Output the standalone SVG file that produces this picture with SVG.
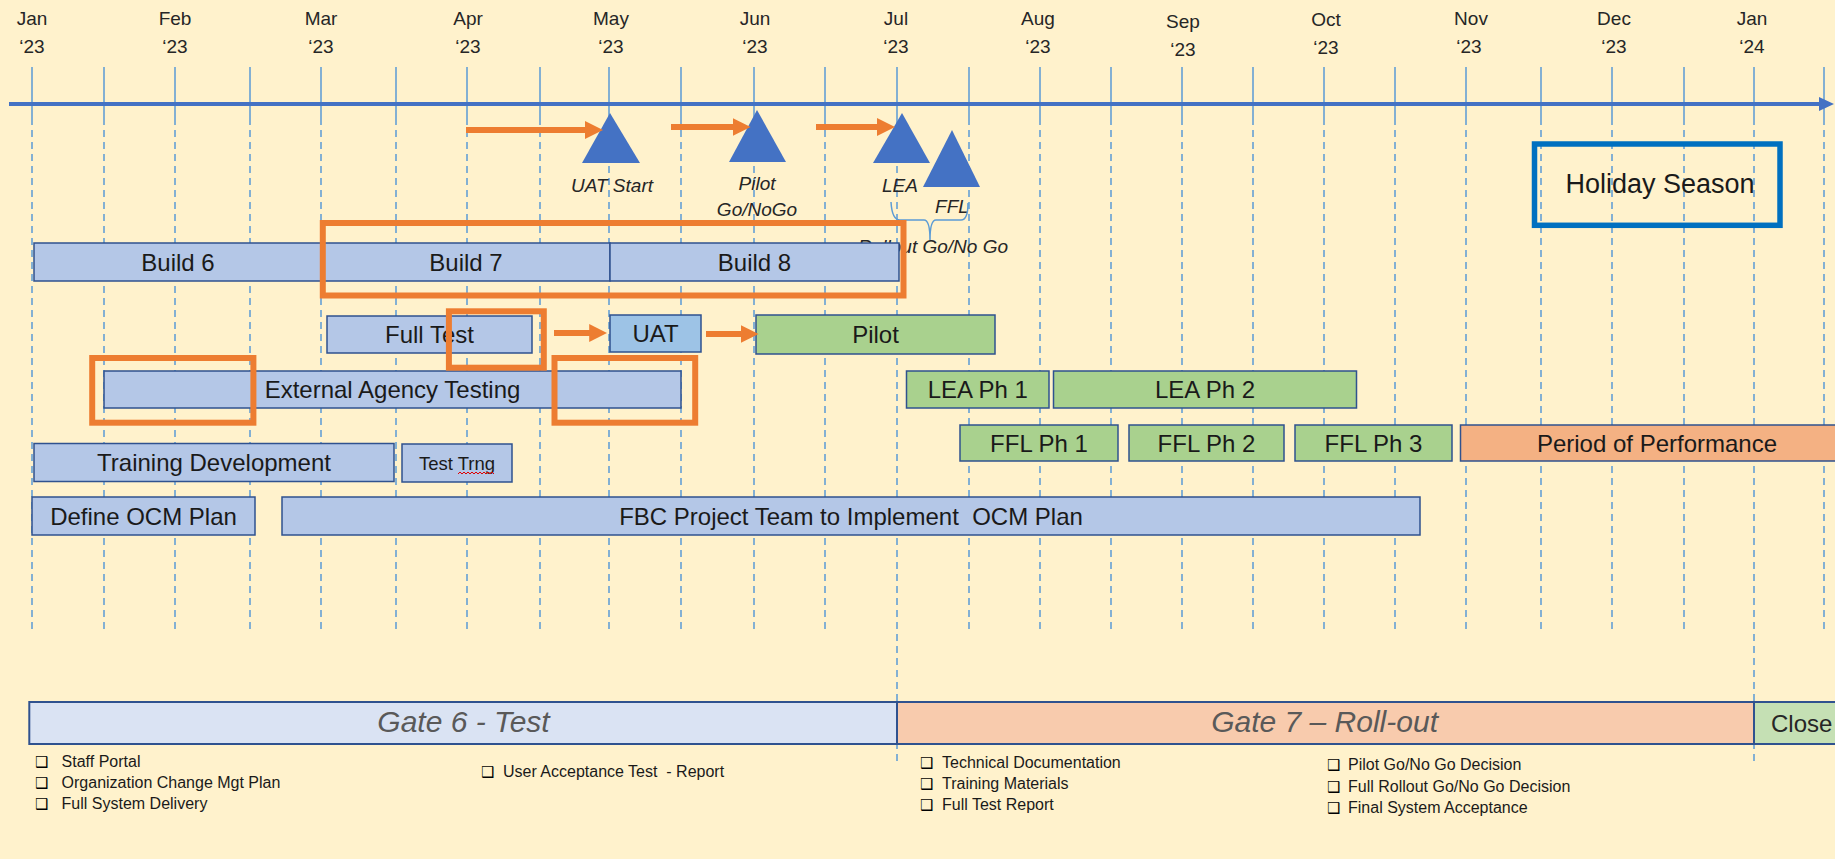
<svg xmlns="http://www.w3.org/2000/svg" width="1835" height="859" viewBox="0 0 1835 859">
<defs>
<marker id="oarrow" markerWidth="3" markerHeight="3" refX="0.4" refY="1.5" orient="auto" markerUnits="strokeWidth">
<path d="M0,0 L3,1.5 L0,3 z" fill="#ED7D31"/>
</marker>
<style>
.bg{fill:#FFF2CC}
.gs{stroke:#5B9BD5;stroke-width:1.5;fill:none}
.gd{stroke:#5B9BD5;stroke-width:1.5;stroke-dasharray:7 5;fill:none}
.box{stroke:#2F528F;stroke-width:1.5}
.blue{fill:#B4C7E7}
.uat{fill:#9DC3E6}
.green{fill:#A9D18E}
.peach{fill:#F4B183}
.lbl{font-family:"Liberation Sans",Arial,sans-serif;font-size:24px;fill:#1a1a1a;text-anchor:middle}
.mon{font-family:"Liberation Sans",Arial,sans-serif;font-size:19px;fill:#262626;text-anchor:middle}
.ms{font-family:"Liberation Sans",Arial,sans-serif;font-size:19px;font-style:italic;fill:#262626;text-anchor:middle}
.orect{fill:none;stroke:#ED7D31;stroke-width:6}
.oline{stroke:#ED7D31;stroke-width:6;fill:none}
.tri{fill:#4472C4}
.gate{stroke:#2F528F;stroke-width:2}
.gtxt{font-family:"Liberation Sans",Arial,sans-serif;font-size:30px;font-style:italic;fill:#595959;text-anchor:middle}
.del{font-family:"Liberation Sans",Arial,sans-serif;font-size:16px;fill:#1a1a1a}
.chk{font-family:"DejaVu Sans",sans-serif;font-size:15px;font-weight:bold;fill:#000000}
</style>
</defs>
<rect class="bg" x="0" y="0" width="1835" height="859"/>

<g id="grid">
<path class="gs" d="M32,67V118 M104,67V118 M175,67V118 M250,67V118 M321,67V118 M396,67V118 M467,67V118 M540,67V118 M609,67V118 M681,67V118 M754,67V118 M825,67V118 M897,67V118 M969,67V118 M1040,67V118 M1111,67V118 M1182,67V118 M1253,67V118 M1324,67V118 M1395,67V118 M1466,67V118 M1541,67V118 M1612,67V118 M1684,67V118 M1754,67V118 M1824,67V118"/>
<path class="gd" d="M32,118V630 M104,118V630 M175,118V630 M250,118V630 M321,118V630 M396,118V630 M467,118V630 M540,118V630 M609,118V630 M681,118V630 M754,118V630 M825,118V630 M897,118V765 M969,118V630 M1040,118V630 M1111,118V630 M1182,118V630 M1253,118V630 M1324,118V630 M1395,118V630 M1466,118V630 M1541,118V630 M1612,118V630 M1684,118V630 M1754,118V765 M1824,118V630"/>
</g>

<g id="axis">
<line x1="9" y1="104" x2="1822" y2="104" stroke="#4472C4" stroke-width="4"/>
<polygon points="1819,97 1834,104 1819,111" fill="#4472C4"/>
</g>

<g id="months">
<text class="mon" x="32" y="25">Jan</text><text class="mon" x="32" y="53">‘23</text>
<text class="mon" x="175" y="25">Feb</text><text class="mon" x="175" y="53">‘23</text>
<text class="mon" x="321" y="25">Mar</text><text class="mon" x="321" y="53">‘23</text>
<text class="mon" x="468" y="25">Apr</text><text class="mon" x="468" y="53">‘23</text>
<text class="mon" x="611" y="25">May</text><text class="mon" x="611" y="53">‘23</text>
<text class="mon" x="755" y="25">Jun</text><text class="mon" x="755" y="53">‘23</text>
<text class="mon" x="896" y="25">Jul</text><text class="mon" x="896" y="53">‘23</text>
<text class="mon" x="1038" y="25">Aug</text><text class="mon" x="1038" y="53">‘23</text>
<text class="mon" x="1183" y="28">Sep</text><text class="mon" x="1183" y="56">‘23</text>
<text class="mon" x="1326" y="26">Oct</text><text class="mon" x="1326" y="54">‘23</text>
<text class="mon" x="1471" y="25">Nov</text><text class="mon" x="1469" y="53">‘23</text>
<text class="mon" x="1614" y="25">Dec</text><text class="mon" x="1614" y="53">‘23</text>
<text class="mon" x="1752" y="25">Jan</text><text class="mon" x="1752" y="53">‘24</text>
</g>

<g id="ms-uat">
<polygon class="tri" points="610,113 582,163 640,163"/>
<text class="ms" x="612" y="192">UAT Start</text>
</g>
<g id="ms-pilot">
<polygon class="tri" points="757,110 729,162 786,162"/>
<text class="ms" x="757" y="190">Pilot</text>
<text class="ms" x="757" y="216">Go/NoGo</text>
</g>
<g id="ms-lea">
<polygon class="tri" points="902,113 873,163 930,163"/>
<text class="ms" x="900" y="192" font-size="18">LEA</text>
</g>
<g id="ms-ffl">
<polygon class="tri" points="952,130 923,187 980,187"/>
<text class="ms" x="952" y="213" font-size="18">FFL</text>
</g>
<g id="rollout">
<path d="M891,202 Q892,220 900,220 L924,220 Q930,220 930,240 Q930,220 936,220 L961,220 Q968,220 968,203" fill="none" stroke="#5B9BD5" stroke-width="1.5"/>
<text class="ms" x="1008" y="253" style="text-anchor:end">Rollout Go/No Go</text>
</g>

<g id="build6"><rect class="box blue" x="34" y="243" width="288" height="38"/><text class="lbl" x="178" y="270.5">Build 6</text></g>
<g id="build7"><rect class="box blue" x="322" y="243" width="288" height="38"/><text class="lbl" x="466" y="270.5">Build 7</text></g>
<g id="build8"><rect class="box blue" x="610" y="243" width="289" height="38"/><text class="lbl" x="754.5" y="270.5">Build 8</text></g>
<g id="fulltest"><rect class="box blue" x="327" y="316" width="205" height="37"/><text class="lbl" x="429.5" y="343">Full Test</text></g>
<g id="uat"><rect class="box uat" x="610" y="315" width="91" height="37"/><text class="lbl" x="655.5" y="342">UAT</text></g>
<g id="pilot"><rect class="box green" x="756" y="315" width="239" height="39"/><text class="lbl" x="875.5" y="343">Pilot</text></g>
<g id="extagency"><rect class="box blue" x="104" y="371" width="577" height="37"/><text class="lbl" x="392.5" y="398">External Agency Testing</text></g>
<g id="leaph1"><rect class="box green" x="906.5" y="371" width="142.5" height="37"/><text class="lbl" x="977.8" y="398">LEA Ph 1</text></g>
<g id="leaph2"><rect class="box green" x="1053.5" y="371" width="303" height="37"/><text class="lbl" x="1205" y="398">LEA Ph 2</text></g>
<g id="trainingdev"><rect class="box blue" x="34" y="443.5" width="360" height="38"/><text class="lbl" x="214" y="471">Training Development</text></g>
<g id="testtrng"><rect class="box blue" x="402" y="444" width="110" height="38"/><text class="lbl" x="457" y="469.5" style="font-size:18.5px">Test Trng</text>
<path d="M458,474 l2,-2 l2,2 l2,-2 l2,2 l2,-2 l2,2 l2,-2 l2,2 l2,-2 l2,2 l2,-2 l2,2 l2,-2 l2,2 l2,-2 l2,2 l2,-2 l2,2" fill="none" stroke="#E00000" stroke-width="1"/></g>
<g id="fflph1"><rect class="box green" x="960" y="425" width="158" height="36"/><text class="lbl" x="1039" y="451.5">FFL Ph 1</text></g>
<g id="fflph2"><rect class="box green" x="1129" y="425" width="155" height="36"/><text class="lbl" x="1206.5" y="451.5">FFL Ph 2</text></g>
<g id="fflph3"><rect class="box green" x="1295" y="425" width="157" height="36"/><text class="lbl" x="1373.5" y="451.5">FFL Ph 3</text></g>
<g id="pop"><rect class="box peach" x="1460.5" y="425" width="400" height="36"/><text class="lbl" x="1657" y="451.5">Period of Performance</text></g>
<g id="defineocm"><rect class="box blue" x="32" y="497" width="223" height="38"/><text class="lbl" x="143.5" y="524.5">Define OCM Plan</text></g>
<g id="fbc"><rect class="box blue" x="282" y="497" width="1138" height="38"/><text class="lbl" x="851" y="524.5" style="white-space:pre">FBC Project Team to Implement  OCM Plan</text></g>

<g id="highlights">
<rect class="orect" x="322.8" y="223" width="580.7" height="72.5"/>
<rect class="orect" x="448.9" y="311.3" width="94.9" height="56.4"/>
<rect class="orect" x="92.2" y="358" width="161.2" height="64.7"/>
<rect class="orect" x="554.5" y="358" width="140.7" height="64.7"/>
</g>

<g id="holiday">
<rect x="1534.5" y="144" width="245.5" height="81.3" fill="none" stroke="#0070C0" stroke-width="5.5"/>
<text class="lbl" x="1660" y="193" style="font-size:27px">Holiday Season</text>
</g>

<g id="connectors">
<line class="oline" x1="466" y1="130" x2="587.4" y2="130" marker-end="url(#oarrow)"/>
<line class="oline" x1="671" y1="127" x2="735" y2="127" marker-end="url(#oarrow)"/>
<line class="oline" x1="816" y1="127" x2="879.4" y2="127" marker-end="url(#oarrow)"/>
<line class="oline" x1="554" y1="333" x2="591.6" y2="333" marker-end="url(#oarrow)"/>
<line class="oline" x1="706" y1="334" x2="743" y2="334" marker-end="url(#oarrow)"/>
</g>

<g id="gate6">
<rect class="gate" x="29.3" y="702" width="867.7" height="42" fill="#DAE3F3"/>
<text class="gtxt" x="463.5" y="732">Gate 6 - Test</text>
</g>
<g id="gate7">
<rect class="gate" x="897" y="702" width="857" height="42" fill="#F8CBAD"/>
<text class="gtxt" x="1324.6" y="731.5">Gate 7 – Roll-out</text>
</g>
<g id="close">
<rect class="gate" x="1754" y="702" width="100" height="42" fill="#C5E0B4"/>
<text x="1771" y="731.5" font-family="Liberation Sans, Arial, sans-serif" font-size="24" fill="#262626">Close</text>
</g>

<g id="deliverables-g6">
<text class="chk" x="35" y="767">❑</text><text class="del" x="61.6" y="767">Staff Portal</text>
<text class="chk" x="35" y="788">❑</text><text class="del" x="61.6" y="788">Organization Change Mgt Plan</text>
<text class="chk" x="35" y="809">❑</text><text class="del" x="61.6" y="809">Full System Delivery</text>
<text class="chk" x="481" y="777">❑</text><text class="del" x="503" y="777" style="white-space:pre">User Acceptance Test  - Report</text>
</g>
<g id="deliverables-g7">
<text class="chk" x="920" y="768">❑</text><text class="del" x="942" y="768">Technical Documentation</text>
<text class="chk" x="920" y="789">❑</text><text class="del" x="942" y="789">Training Materials</text>
<text class="chk" x="920" y="810">❑</text><text class="del" x="942" y="810">Full Test Report</text>
<text class="chk" x="1327" y="770">❑</text><text class="del" x="1348" y="770">Pilot Go/No Go Decision</text>
<text class="chk" x="1327" y="792">❑</text><text class="del" x="1348" y="792">Full Rollout Go/No Go Decision</text>
<text class="chk" x="1327" y="813">❑</text><text class="del" x="1348" y="813">Final System Acceptance</text>
</g>
</svg>
